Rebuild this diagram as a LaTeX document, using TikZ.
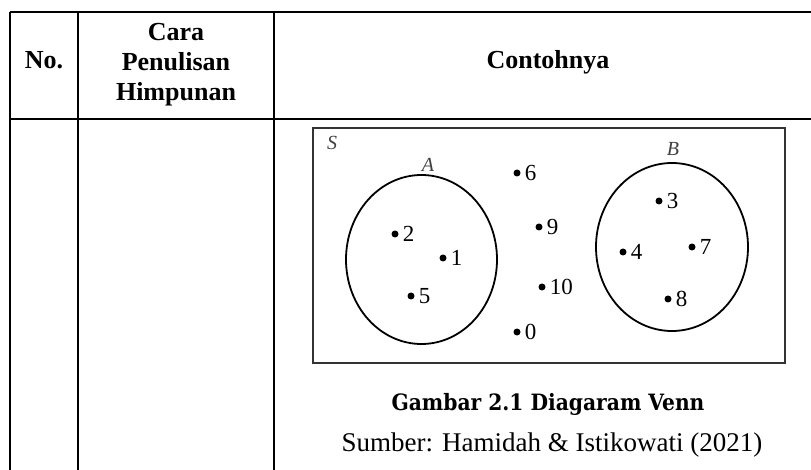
\documentclass[tikz,border=0pt]{standalone}
\usepackage{fontspec}
\setmainfont{Liberation Serif}
\newfontfamily\capfont{DejaVu Serif Condensed}
\usetikzlibrary{positioning}

\begin{document}
\begin{tikzpicture}[x=1pt,y=-1pt,
  rule/.style={line width=2.5pt},
  head/.style={font=\bfseries\fontsize{26}{30}\selectfont, align=center},
  dot/.style={circle, fill, inner sep=0pt, minimum size=7pt},
  num/.style={font=\fontsize{23}{23}\selectfont, inner sep=0pt, right=4pt of #1},
  setname/.style={font=\itshape\fontsize{20}{20}\selectfont, text=black!75}]
\useasboundingbox (0,0) rectangle (811,470);
% table rules
\draw[rule] (10,12) -- (811,12);
\draw[rule] (10,119) -- (811,119);
\draw[rule] (10,12) -- (10,470);
\draw[rule] (78,12) -- (78,470);
\draw[rule] (274,12) -- (274,470);
% header
\node[head, anchor=base] (no) at (44,69) {No.};
\node[head] (cara) at (176,65) {Cara\\Penulisan\\Himpunan};
\node[head, anchor=base] (contoh) at (548,69) {Contohnya};
% venn diagram
\draw[line width=2pt, draw=black!80] (313,128) rectangle (785,363);
\node[setname] (s) at (332,143) {S};
\draw[line width=1.8pt] (421.5,259.5) ellipse [x radius=75.5, y radius=84.5];
\node[setname] (a) at (428,165) {A};
\draw[line width=1.8pt] (672,247) ellipse [x radius=76, y radius=84];
\node[setname] (b) at (673,149) {B};
\foreach \x/\y/\n in {517/173/6, 539/227/9, 542/287/10, 517/332/0,
                      395/234/2, 443/258/1, 411/296/5,
                      659/201/3, 623/252/4, 692/247/7, 668/299/8} {
  \node[dot] (p\n) at (\x,\y) {};
  \node[num=p\n] (e\n) {\n};
}
% caption
\node[font=\capfont\bfseries\fontsize{22.5}{28}\selectfont, anchor=base] (judul) at (548,410) {Gambar 2.1 Diagaram Venn};
\node[font=\fontsize{27}{30}\selectfont, anchor=base] (sumber) at (552,451) {Sumber: Hamidah \& Istikowati (2021)};
\end{tikzpicture}
\end{document}
